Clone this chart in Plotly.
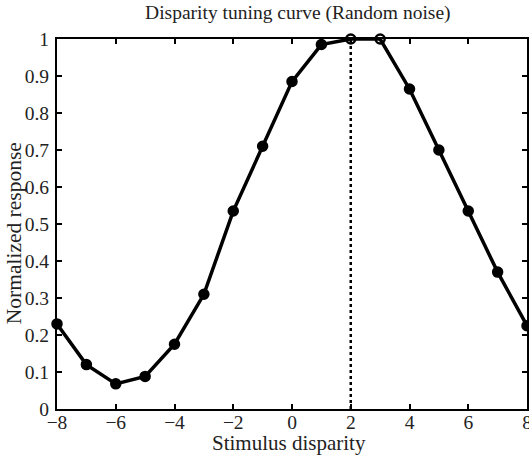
import plotly.graph_objects as go

disparity = [-8, -7, -6, -5, -4, -3, -2, -1, 0, 1, 2, 3, 4, 5, 6, 7, 8]
response = [0.23, 0.12, 0.068, 0.088, 0.175, 0.31, 0.535, 0.71, 0.885, 0.985,
            1.0, 1.0, 0.865, 0.70, 0.535, 0.37, 0.225]
marker_symbols = ["circle"] * 10 + ["circle-open", "circle-open"] + ["circle"] * 5
peak_x = 2
xticks = [-8, -6, -4, -2, 0, 2, 4, 6, 8]
yticks = [0, 0.1, 0.2, 0.3, 0.4, 0.5, 0.6, 0.7, 0.8, 0.9, 1]
ytick_text = ["0", "0.1", "0.2", "0.3", "0.4", "0.5", "0.6", "0.7", "0.8", "0.9", "1"]

fig = go.Figure()
fig.add_trace(go.Scatter(
    x=[peak_x, peak_x], y=[0, 1], mode="lines",
    line=dict(color="black", width=2.5, dash="dot"),
    showlegend=False, cliponaxis=False))
fig.add_trace(go.Scatter(
    x=disparity, y=response, mode="lines+markers",
    line=dict(color="black", width=3.5),
    marker=dict(symbol=marker_symbols, size=9, color="black",
                line=dict(color="black", width=2.5)),
    showlegend=False, cliponaxis=False))

font = "Liberation Serif"
txt = "#222"
axis_common = dict(
    showline=True, linecolor="black", linewidth=2, mirror="ticks",
    ticks="inside", ticklen=5, tickwidth=1.5, tickcolor="black",
    showgrid=False, zeroline=False, ticklabeloverflow="allow",
    automargin=False,
    tickfont=dict(family=font, size=19.5, color=txt),
)
fig.update_layout(
    width=529, height=455,
    margin=dict(l=57, r=2, t=39, b=46),
    paper_bgcolor="white", plot_bgcolor="white",
    title=dict(text="Disparity tuning curve (Random noise)",
               x=0.563, xanchor="center", y=0.988, yanchor="top",
               font=dict(family=font, size=19.5, color=txt)),
    xaxis=dict(range=[-8, 8], tickvals=xticks,
               ticktext=[str(t).replace("-", "\u2212") for t in xticks],
               ticklabelstandoff=-5,
               **axis_common),
    yaxis=dict(range=[0, 1], tickvals=yticks, ticktext=ytick_text,
               ticklabelstandoff=2,
               **axis_common),
    annotations=[
        dict(text="Normalized response", textangle=-90,
             xref="paper", yref="paper", x=(14 - 57) / 470, y=0.475,
             xanchor="center", yanchor="middle", showarrow=False,
             font=dict(family=font, size=21.5, color=txt)),
        dict(text="Stimulus disparity",
             xref="paper", yref="paper", x=(289 - 57) / 470, y=-(443 - 409) / 370,
             xanchor="center", yanchor="middle", showarrow=False,
             font=dict(family=font, size=21, color=txt)),
    ],
)
fig.write_html("out.html")
